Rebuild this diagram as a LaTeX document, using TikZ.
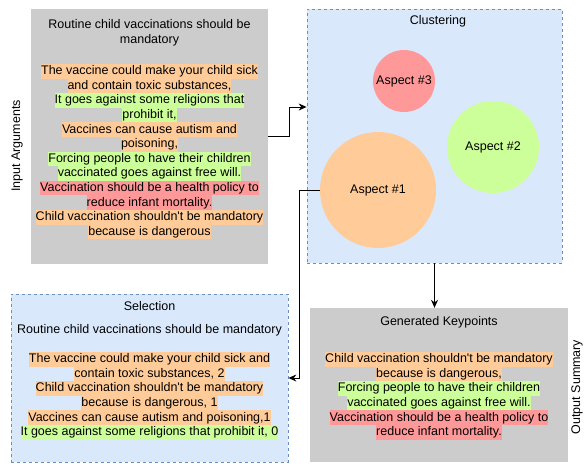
\documentclass[tikz,border=0pt]{standalone}
\usepackage{fontspec}
\setmainfont{Liberation Sans}[Ligatures=TeXOff]
\usetikzlibrary{arrows.meta}
\definecolor{hlo}{HTML}{FFCC99}
\definecolor{hlg}{HTML}{CCFF99}
\definecolor{hlr}{HTML}{FF9999}
\definecolor{boxgray}{HTML}{CCCCCC}
\definecolor{boxblue}{HTML}{DAE8FC}
\definecolor{edgeblue}{HTML}{6C8EBF}
\newcommand{\hlline}[2]{{\setlength{\fboxsep}{0pt}\colorbox{#1}{\rule[-3.9pt]{0pt}{14.6pt}#2}}}
\begin{document}
\begin{tikzpicture}[x=1pt,y=-1pt,
  every node/.style={font=\fontsize{12.5}{14.6}\selectfont, text=black},
  graybox/.style={draw=none, fill=boxgray, rectangle, inner sep=0pt},
  bluebox/.style={draw=edgeblue, fill=boxblue, rectangle, inner sep=0pt, line width=0.75pt, dash pattern=on 3pt off 3pt},
  txt/.style={align=center, inner sep=0pt},
  aspect/.style={circle, draw=none, inner sep=0pt},
  conn/.style={line width=1pt, -{Stealth[length=8pt,width=7pt]}}
]
\useasboundingbox (0,0) rectangle (585,463);

% boxes
\node[graybox, minimum width=237pt, minimum height=255pt] (inp) at (149.5,136.5) {};
\node[bluebox, minimum width=255pt, minimum height=254pt] (clu) at (434.5,136) {};
\node[bluebox, minimum width=277pt, minimum height=168pt] (sel) at (149.5,378) {};
\node[graybox, minimum width=258pt, minimum height=154pt] (gen) at (439,385) {};

% side labels
\node[rotate=90] (inlab) at (17,146) {Input Arguments};
\node[rotate=90] (outlab) at (577,387) {Output Summary};

% input text
\node[txt] (inptitle) at (149.5,33) {Routine child vaccinations should be\\mandatory};
\node[txt, anchor=north] (inptxt) at (149.5,63.7) {%
\hlline{hlo}{The vaccine could make your child sick}\\
\hlline{hlo}{and contain toxic substances,}\\
\hlline{hlg}{It goes against some religions that}\\
\hlline{hlg}{prohibit it,}\\
\hlline{hlo}{Vaccines can cause autism and}\\
\hlline{hlo}{poisoning,}\\
\hlline{hlg}{Forcing people to have their children}\\
\hlline{hlg}{vaccinated goes against free will.}\\
\hlline{hlr}{Vaccination should be a health policy to}\\
\hlline{hlr}{reduce infant mortality.}\\
\hlline{hlo}{Child vaccination shouldn't be mandatory}\\
\hlline{hlo}{because is dangerous}};

% clustering
\node[txt] (clutitle) at (438,21) {Clustering};
\node[aspect, fill=hlr, minimum size=62pt] (a3) at (404,81) {Aspect \#3};
\node[aspect, fill=hlg, minimum size=92pt] (a2) at (493,147) {Aspect \#2};
\node[aspect, fill=hlo, minimum size=116pt] (a1) at (378,190) {Aspect \#1};

% selection
\node[txt] (seltitle) at (149.5,306) {Selection};
\node[txt] (selclaim) at (149.5,330) {Routine child vaccinations should be mandatory};
\node[txt, anchor=north] (seltxt) at (149.5,351.7) {%
\hlline{hlo}{The vaccine could make your child sick and}\\
\hlline{hlo}{contain toxic substances, 2}\\
\hlline{hlo}{Child vaccination shouldn't be mandatory}\\
\hlline{hlo}{because is dangerous, 1}\\
\hlline{hlo}{Vaccines can cause autism and poisoning,1}\\
\hlline{hlg}{It goes against some religions that prohibit it, 0}};

% generated keypoints
\node[txt] (gentitle) at (439,322) {Generated Keypoints};
\node[txt, anchor=north] (gentxt) at (439,351.7) {%
\hlline{hlo}{Child vaccination shouldn't be mandatory}\\
\hlline{hlo}{because is dangerous,}\\
\hlline{hlg}{Forcing people to have their children}\\
\hlline{hlg}{vaccinated goes against free will.}\\
\hlline{hlr}{Vaccination should be a health policy to}\\
\hlline{hlr}{reduce infant mortality.}};

% connectors
\draw[conn] (inp.east) -- ++(21,0) |- ([yshift=29pt]clu.west);
\draw[conn] (a1.west) -- ++(-20,0) |- (sel.east);
\draw[conn] (clu.south) -- (clu.south |- gen.north);
\end{tikzpicture}
\end{document}
